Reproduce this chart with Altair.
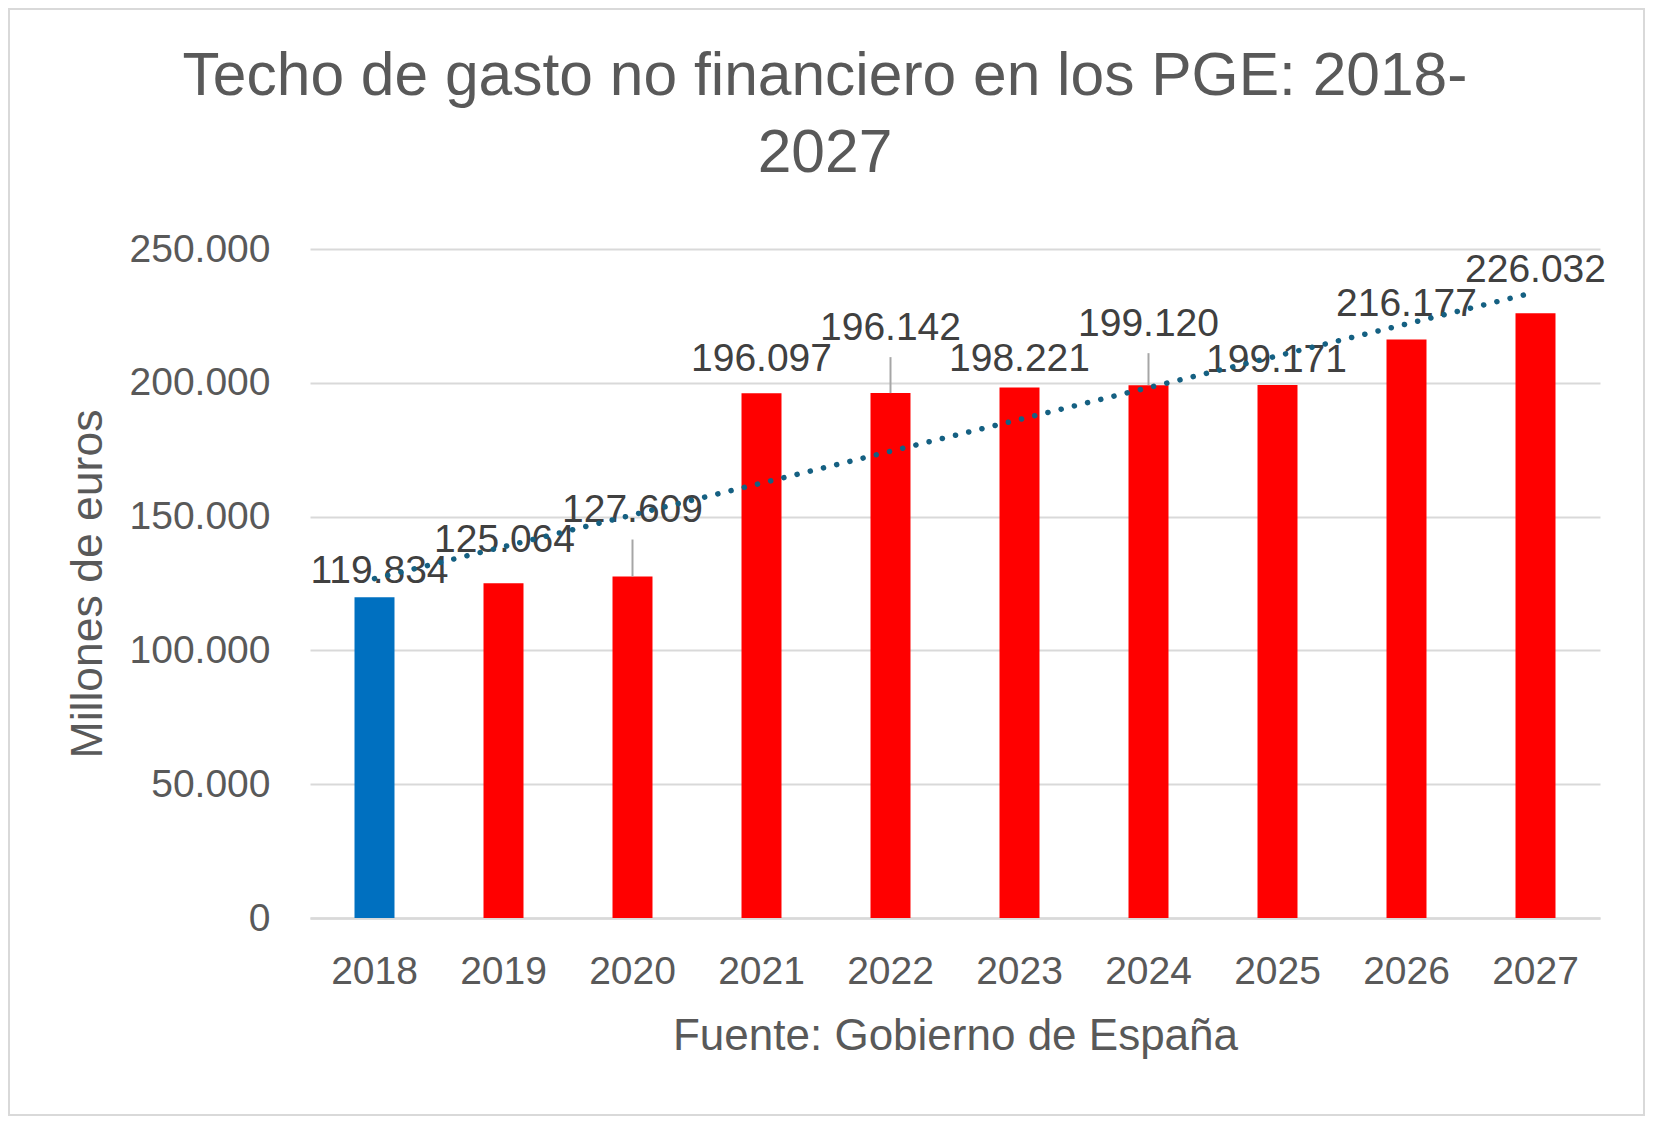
import altair as alt
import pandas as pd

# ---- data ----
years = ["2018", "2019", "2020", "2021", "2022", "2023", "2024", "2025", "2026", "2027"]
values = [119834, 125064, 127609, 196097, 196142, 198221, 199120, 199171, 216177, 226032]
y_ticks = [0, 50000, 100000, 150000, 200000, 250000]
highlight_year = "2018"
title_lines = ["Techo de gasto no financiero en los PGE: 2018-", "2027"]
y_title = "Millones de euros"
x_title = "Fuente: Gobierno de España"

df = pd.DataFrame({"year": years, "idx": list(range(len(years))), "value": values})

# ---- styling ----
FONT = "Liberation Sans"
GREY_TXT = "#595959"
LABEL_TXT = "#404040"
GRID = "#D9D9D9"
W, H = 1290, 669
PAD = {"left": 302, "top": 241, "right": 45, "bottom": 198}

# label nudges (pixels) like the manually moved Excel labels
label_nudge = {
    "2018": (5, -26), "2019": (1, -43), "2020": (0, -67), "2021": (0, -34),
    "2022": (0, -65), "2023": (0, -29), "2024": (0, -61), "2025": (-1, -25),
    "2026": (0, -36), "2027": (0, -43),
}
leader_len = {"2020": 37, "2022": 36, "2024": 32}

xscale = alt.Scale(domain=years, paddingInner=0.69, paddingOuter=0.345)
yscale = alt.Scale(domain=[0, 250000], nice=False)

base = alt.Chart(df)

bars = base.mark_bar().encode(
    x=alt.X(
        "year:N",
        scale=xscale,
        axis=alt.Axis(
            title=x_title,
            labelAngle=0,
            labelFont=FONT,
            labelFontSize=39,
            labelColor=GREY_TXT,
            labelBaseline="middle",
            labelPadding=53,
            ticks=False,
            tickSize=0,
            domainColor=GRID,
            domainWidth=2.5,
            titleFont=FONT,
            titleFontSize=44,
            titleFontWeight="normal",
            titleColor=GREY_TXT,
            titleBaseline="middle",
            titleAlign="center",
            titleX=W / 2,
            titleY=118,
        ),
    ),
    y=alt.Y(
        "value:Q",
        scale=yscale,
        axis=alt.Axis(
            title=y_title,
            values=y_ticks,
            labelExpr="replace(format(datum.value, ','), ',', '.')",
            labelFont=FONT,
            labelFontSize=39,
            labelColor=GREY_TXT,
            labelPadding=40,
            ticks=False,
            tickSize=0,
            domain=False,
            grid=True,
            gridColor=GRID,
            gridWidth=2,
            titleFont=FONT,
            titleFontSize=44.5,
            titleFontWeight="normal",
            titleColor=GREY_TXT,
            titleAngle=-90,
            titleAlign="center",
            titleBaseline="middle",
            titleX=-222,
            titleY=H / 2,
        ),
    ),
    color=alt.condition(
        alt.datum.year == highlight_year, alt.value("#0070C0"), alt.value("#FF0000")
    ),
)

layers = [bars]

# leader lines
for yr, ln in leader_len.items():
    layers.append(
        base.transform_filter(alt.datum.year == yr)
        .mark_rule(color="#A6A6A6", strokeWidth=2, y2Offset=-ln)
        .encode(
            x=alt.X("year:N", scale=xscale, axis=None),
            y=alt.Y("value:Q", scale=yscale),
            y2=alt.Y2("value:Q"),
        )
    )

# data labels
for yr, (dx, dy) in label_nudge.items():
    layers.append(
        base.transform_filter(alt.datum.year == yr)
        .transform_calculate(label="replace(format(datum.value, ','), ',', '.')")
        .mark_text(
            font=FONT, fontSize=39, color=LABEL_TXT, align="center",
            baseline="middle", dx=dx, dy=dy,
        )
        .encode(
            x=alt.X("year:N", scale=xscale, axis=None),
            y=alt.Y("value:Q", scale=yscale),
            text="label:N",
        )
    )

# linear trend line (dotted)
trend = (
    base.transform_regression("idx", "value", method="linear", extent=[0, len(years) - 1])
    .mark_line(color="#156082", strokeWidth=5.5, strokeDash=[0.1, 13.5], strokeCap="round")
    .encode(
        x=alt.X("idx:Q", scale=alt.Scale(domain=[-0.5, len(years) - 0.5], nice=False, zero=False), axis=None),
        y=alt.Y("value:Q", scale=yscale),
    )
)

# outer frame
frame = (
    alt.Chart(alt.Data(values=[{"f": 1}]))
    .mark_rect(fillOpacity=0, stroke=GRID, strokeWidth=2)
    .encode(
        x=alt.value(-PAD["left"] + 1),
        x2=alt.value(W + PAD["right"] - 1),
        y=alt.value(-PAD["top"] + 1),
        y2=alt.value(H + PAD["bottom"] - 1),
    )
)

chart = (
    alt.layer(*layers, trend, frame)
    .resolve_scale(x="independent")
    .properties(
        width=W,
        height=H,
        padding=PAD,
        autosize=alt.AutoSizeParams(type="none"),
        background="white",
        title=alt.TitleParams(
            text=title_lines,
            font=FONT,
            fontSize=60.5,
            fontWeight="normal",
            color=GREY_TXT,
            anchor="middle",
            frame="group",
            dx=-130,
            lineHeight=77,
            offset=0,
            dy=176,
        ),
    )
    .configure_view(stroke=None)
)

chart.save("out.html", embed_options={"renderer": "svg", "actions": False})
